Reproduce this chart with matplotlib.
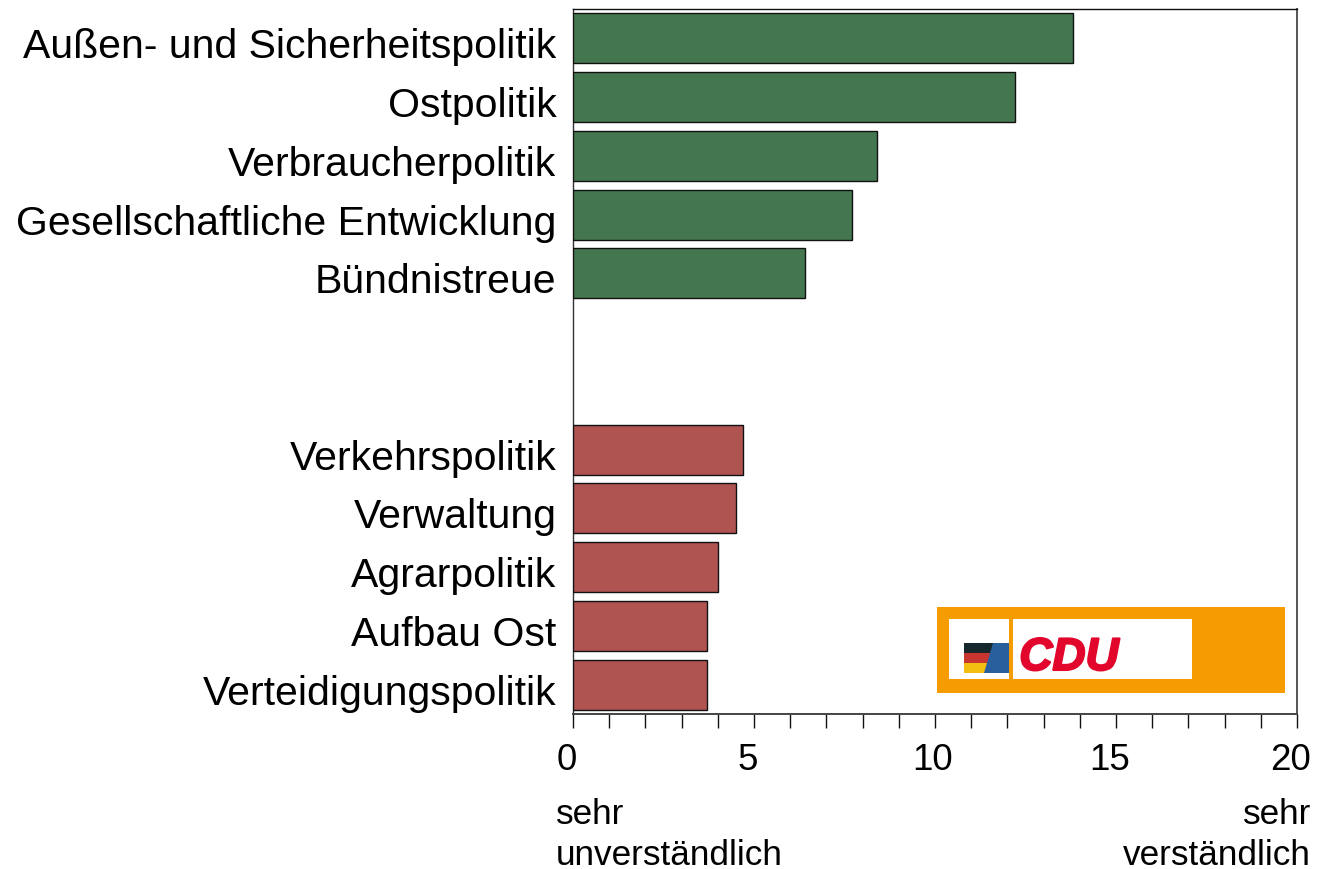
import matplotlib
matplotlib.use("Agg")
import matplotlib.pyplot as plt
import matplotlib.patheffects as pe
from matplotlib.patches import Rectangle, Polygon
from matplotlib.transforms import ScaledTranslation

plt.rcParams['font.family'] = ['Liberation Sans', 'DejaVu Sans']

categories = ["Außen- und Sicherheitspolitik", "Ostpolitik", "Verbraucherpolitik",
              "Gesellschaftliche Entwicklung", "Bündnistreue", "", "",
              "Verkehrspolitik", "Verwaltung", "Agrarpolitik", "Aufbau Ost",
              "Verteidigungspolitik"]
values = [13.8, 12.2, 8.4, 7.7, 6.4, 0, 0, 4.7, 4.5, 4.0, 3.7, 3.7]
colors = ["#44774f"] * 7 + ["#b05452"] * 5
major_ticks = [0, 5, 10, 15, 20]
minor_ticks = list(range(21))

W, H = 1318, 870
fig = plt.figure(figsize=(W / 100, H / 100), dpi=100)
ax = fig.add_axes([573 / W, 1 - 715 / H, (1297 - 573) / W, (715 - 10) / H])

for i, (v, c) in enumerate(zip(values, colors)):
    if v > 0:
        ax.barh(i, v, height=0.85, color=c, edgecolor="#111111", linewidth=1.0, zorder=3)

ax.set_xlim(0, 20)
ax.set_ylim(11.5, -0.5)
ax.set_yticks([i for i, c in enumerate(categories) if c])
ax.set_yticklabels([c for c in categories if c], fontsize=29.5, color="black")
ax.tick_params(axis='y', length=0, pad=12)
offset = ScaledTranslation(0, -4 / 100, fig.dpi_scale_trans)
for lab in ax.get_yticklabels():
    lab.set_transform(lab.get_transform() + offset)
ax.set_xticks(major_ticks)
ax.set_xticklabels([])
ax.set_xticks(minor_ticks, minor=True)
ax.tick_params(axis='x', which='both', length=10, width=1.0, color="#111111", direction='out')

ax.spines['top'].set_color("#111111")
ax.spines['top'].set_linewidth(1.0)
ax.spines['left'].set_color("#333333")
ax.spines['left'].set_linewidth(1.0)
ax.spines['right'].set_color("#555555")
ax.spines['right'].set_linewidth(1.4)
ax.spines['bottom'].set_color("#444444")
ax.spines['bottom'].set_linewidth(1.4)

def px(x, y):
    return x / W, 1 - y / H

# x tick labels, shifted slightly left as in the reference
for t, xp in zip(major_ticks, [567, 748, 933, 1110, 1291]):
    fig.text(*px(xp, 760), str(t), fontsize=26.5, ha='center', va='center')

fig.text(*px(556, 815), "sehr", fontsize=25.3, ha='left', va='center')
fig.text(*px(556, 856), "unverständlich", fontsize=25.3, ha='left', va='center')
fig.text(*px(1311, 815), "sehr", fontsize=25.3, ha='right', va='center')
fig.text(*px(1311, 856), "verständlich", fontsize=25.3, ha='right', va='center')

# logo
def rect(x0, y0, x1, y1, color, z=5):
    fig.add_artist(Rectangle(px(x0, y1), (x1 - x0) / W, (y1 - y0) / H,
                             transform=fig.transFigure, facecolor=color,
                             edgecolor='none', zorder=z))

def poly(points, color, z=8):
    fig.add_artist(Polygon([px(*p) for p in points], closed=True,
                           transform=fig.transFigure, facecolor=color,
                           edgecolor='none', zorder=z))

rect(937, 608, 1285, 694, "#f59d00")
rect(949, 620, 1009, 680, "white", 6)
rect(1013, 620, 1192, 680, "white", 6)
rect(964, 644, 1009, 674, "#2a5f9e", 7)
poly([(964, 644), (993, 644), (990, 654), (964, 654)], "#16282c")
poly([(964, 654), (990, 654), (987, 664), (964, 664)], "#c8352e")
poly([(964, 664), (987, 664), (984, 674), (964, 674)], "#f2bf10")
fig.text(*px(1069, 659), "CDU", fontsize=33, fontweight='bold', style='italic',
         color="#e2062c", ha='center', va='center', zorder=9,
         path_effects=[pe.withStroke(linewidth=1.5, foreground="#e2062c")])

fig.savefig("out.png", dpi=100)
